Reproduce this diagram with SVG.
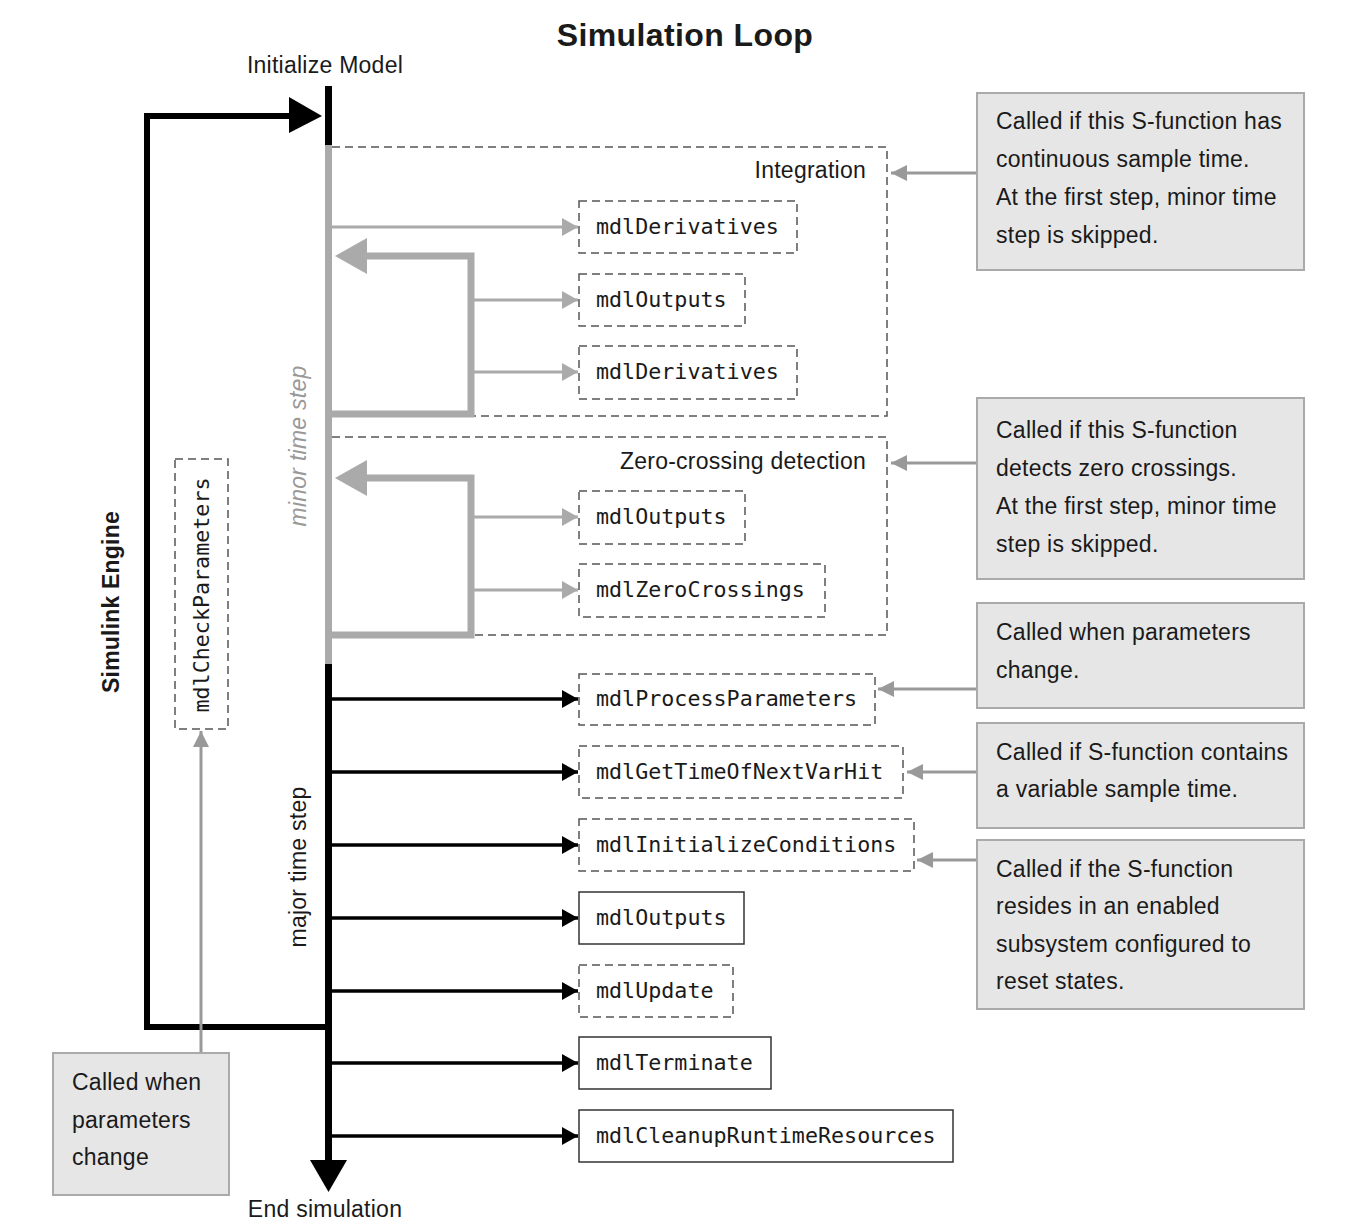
<svg xmlns="http://www.w3.org/2000/svg" width="1366" height="1232" viewBox="0 0 1366 1232">
<defs>
<style>
.t{font-family:"Liberation Sans",Arial,sans-serif;font-size:23px;letter-spacing:0.25px;fill:#1a1a1a}
.m{font-family:"DejaVu Sans Mono","Liberation Mono",monospace;font-size:21.7px;fill:#1a1a1a}
.db{fill:#fff;stroke:#555;stroke-width:1.5;stroke-dasharray:8 5}
.sb{fill:#fff;stroke:#333;stroke-width:1.5}
.cb{fill:#e6e6e6;stroke:#aaa;stroke-width:2}
.dl{fill:none;stroke:#555;stroke-width:1.5;stroke-dasharray:8 5}
.ga{stroke:#aaa;stroke-width:3;fill:none}
.ba{stroke:#000;stroke-width:3.5;fill:none}
.ca{stroke:#999;stroke-width:3;fill:none}
</style>
<marker id="ag" markerUnits="userSpaceOnUse" markerWidth="16" markerHeight="18" refX="16" refY="9" orient="auto"><path d="M0,0 L16,9 L0,18 Z" fill="#aaa"/></marker>
<marker id="ab" markerUnits="userSpaceOnUse" markerWidth="16" markerHeight="18" refX="16" refY="9" orient="auto"><path d="M0,0 L16,9 L0,18 Z" fill="#000"/></marker>
<marker id="ac" markerUnits="userSpaceOnUse" markerWidth="16" markerHeight="16" refX="16" refY="8" orient="auto"><path d="M0,0 L16,8 L0,16 Z" fill="#999"/></marker>
</defs>
<rect width="1366" height="1232" fill="#fff"/>

<text x="685" y="46" text-anchor="middle" style="font-family:'Liberation Sans',Arial,sans-serif;font-size:32px;letter-spacing:0.4px;font-weight:bold;fill:#1a1a1a">Simulation Loop</text>
<text class="t" x="325" y="73" text-anchor="middle">Initialize Model</text>
<text class="t" x="325" y="1217" text-anchor="middle">End simulation</text>

<g id="integration">
<path class="dl" d="M332,147 H887 V416 H471"/>
<text class="t" x="866" y="178" text-anchor="end">Integration</text>
</g>
<g id="zerocrossing">
<path class="dl" d="M332,437 H887 V635 H471"/>
<text class="t" x="866" y="469" text-anchor="end">Zero-crossing detection</text>
</g>

<g id="connectors">
<path d="M328,1027 H147 V116 H292" fill="none" stroke="#000" stroke-width="6"/>
<path d="M289,97 L322,116 L289,133 Z" fill="#000"/>
<line x1="328.5" y1="86" x2="328.5" y2="145" stroke="#000" stroke-width="7"/>
<line x1="328.5" y1="145" x2="328.5" y2="664" stroke="#aaa" stroke-width="7"/>
<line x1="328.5" y1="664" x2="328.5" y2="1162" stroke="#000" stroke-width="7"/>
<path d="M310,1160 L347,1160 L328.5,1192 Z" fill="#000"/>
<path d="M332,414 H471 V256 H362" fill="none" stroke="#aaa" stroke-width="7"/>
<path d="M335,256 L367,238 L367,274 Z" fill="#aaa"/>
<path d="M332,635 H471 V478 H362" fill="none" stroke="#aaa" stroke-width="7"/>
<path d="M335,478 L367,460 L367,496 Z" fill="#aaa"/>
<line class="ga" x1="332" y1="227" x2="578" y2="227" marker-end="url(#ag)"/>
<line class="ga" x1="474" y1="300" x2="578" y2="300" marker-end="url(#ag)"/>
<line class="ga" x1="474" y1="372" x2="578" y2="372" marker-end="url(#ag)"/>
<line class="ga" x1="474" y1="517" x2="578" y2="517" marker-end="url(#ag)"/>
<line class="ga" x1="474" y1="590" x2="578" y2="590" marker-end="url(#ag)"/>
<line class="ba" x1="332" y1="699" x2="578" y2="699" marker-end="url(#ab)"/>
<line class="ba" x1="332" y1="772" x2="578" y2="772" marker-end="url(#ab)"/>
<line class="ba" x1="332" y1="845" x2="578" y2="845" marker-end="url(#ab)"/>
<line class="ba" x1="332" y1="918" x2="578" y2="918" marker-end="url(#ab)"/>
<line class="ba" x1="332" y1="991" x2="578" y2="991" marker-end="url(#ab)"/>
<line class="ba" x1="332" y1="1063" x2="578" y2="1063" marker-end="url(#ab)"/>
<line class="ba" x1="332" y1="1136" x2="578" y2="1136" marker-end="url(#ab)"/>
<line class="ca" x1="976" y1="173" x2="891" y2="173" marker-end="url(#ac)"/>
<line class="ca" x1="976" y1="463" x2="891" y2="463" marker-end="url(#ac)"/>
<line class="ca" x1="976" y1="689" x2="878" y2="689" marker-end="url(#ac)"/>
<line class="ca" x1="976" y1="772" x2="907" y2="772" marker-end="url(#ac)"/>
<line class="ca" x1="976" y1="860" x2="917" y2="860" marker-end="url(#ac)"/>
<line class="ca" x1="201" y1="1053" x2="201" y2="731" marker-end="url(#ac)"/>
</g>

<text transform="rotate(-90 119 602)" x="119" y="602" text-anchor="middle" style="font-family:'Liberation Sans',Arial,sans-serif;font-size:23px;letter-spacing:0.2px;font-weight:bold;fill:#1a1a1a">Simulink Engine</text>
<text class="t" transform="rotate(-90 306 446)" x="306" y="446" text-anchor="middle" style="font-style:italic;fill:#999">minor time step</text>
<text class="t" transform="rotate(-90 306 867)" x="306" y="867" text-anchor="middle">major time step</text>

<g id="mdlCheckParameters">
<rect class="db" x="175" y="459" width="53" height="270"/>
<text class="m" transform="rotate(-90 209 595)" x="209" y="595" text-anchor="middle">mdlCheckParameters</text>
</g>

<g id="mdlDerivatives1"><rect class="db" x="579" y="201" width="218" height="52"/><text class="m" x="596" y="234">mdlDerivatives</text></g>
<g id="mdlOutputs1"><rect class="db" x="579" y="274" width="166" height="52"/><text class="m" x="596" y="307">mdlOutputs</text></g>
<g id="mdlDerivatives2"><rect class="db" x="579" y="346" width="218" height="53"/><text class="m" x="596" y="379">mdlDerivatives</text></g>
<g id="mdlOutputs2"><rect class="db" x="579" y="491" width="166" height="53"/><text class="m" x="596" y="524">mdlOutputs</text></g>
<g id="mdlZeroCrossings"><rect class="db" x="579" y="564" width="246" height="53"/><text class="m" x="596" y="597">mdlZeroCrossings</text></g>
<g id="mdlProcessParameters"><rect class="db" x="579" y="674" width="296" height="51"/><text class="m" x="596" y="706">mdlProcessParameters</text></g>
<g id="mdlGetTimeOfNextVarHit"><rect class="db" x="579" y="746" width="324" height="52"/><text class="m" x="596" y="779">mdlGetTimeOfNextVarHit</text></g>
<g id="mdlInitializeConditions"><rect class="db" x="579" y="819" width="335" height="52"/><text class="m" x="596" y="852">mdlInitializeConditions</text></g>
<g id="mdlOutputs3"><rect class="sb" x="579" y="892" width="165" height="52"/><text class="m" x="596" y="925">mdlOutputs</text></g>
<g id="mdlUpdate"><rect class="db" x="579" y="965" width="154" height="52"/><text class="m" x="596" y="998">mdlUpdate</text></g>
<g id="mdlTerminate"><rect class="sb" x="579" y="1037" width="192" height="52"/><text class="m" x="596" y="1070">mdlTerminate</text></g>
<g id="mdlCleanupRuntimeResources"><rect class="sb" x="579" y="1110" width="374" height="52"/><text class="m" x="596" y="1143">mdlCleanupRuntimeResources</text></g>

<g id="note1"><rect class="cb" x="977" y="93" width="327" height="177"/>
<text class="t" x="996" y="129">Called if this S-function has</text>
<text class="t" x="996" y="167">continuous sample time.</text>
<text class="t" x="996" y="205">At the first step, minor time</text>
<text class="t" x="996" y="243">step is skipped.</text></g>
<g id="note2"><rect class="cb" x="977" y="398" width="327" height="181"/>
<text class="t" x="996" y="438">Called if this S-function</text>
<text class="t" x="996" y="476">detects zero crossings.</text>
<text class="t" x="996" y="514">At the first step, minor time</text>
<text class="t" x="996" y="552">step is skipped.</text></g>
<g id="note3"><rect class="cb" x="977" y="603" width="327" height="105"/>
<text class="t" x="996" y="640">Called when parameters</text>
<text class="t" x="996" y="678">change.</text></g>
<g id="note4"><rect class="cb" x="977" y="723" width="327" height="105"/>
<text class="t" x="996" y="760">Called if S-function contains</text>
<text class="t" x="996" y="797">a variable sample time.</text></g>
<g id="note5"><rect class="cb" x="977" y="840" width="327" height="169"/>
<text class="t" x="996" y="877">Called if the S-function</text>
<text class="t" x="996" y="914">resides in an enabled</text>
<text class="t" x="996" y="952">subsystem configured to</text>
<text class="t" x="996" y="989">reset states.</text></g>
<g id="note6"><rect class="cb" x="53" y="1053" width="176" height="142"/>
<text class="t" x="72" y="1090">Called when</text>
<text class="t" x="72" y="1128">parameters</text>
<text class="t" x="72" y="1165">change</text></g>
</svg>
